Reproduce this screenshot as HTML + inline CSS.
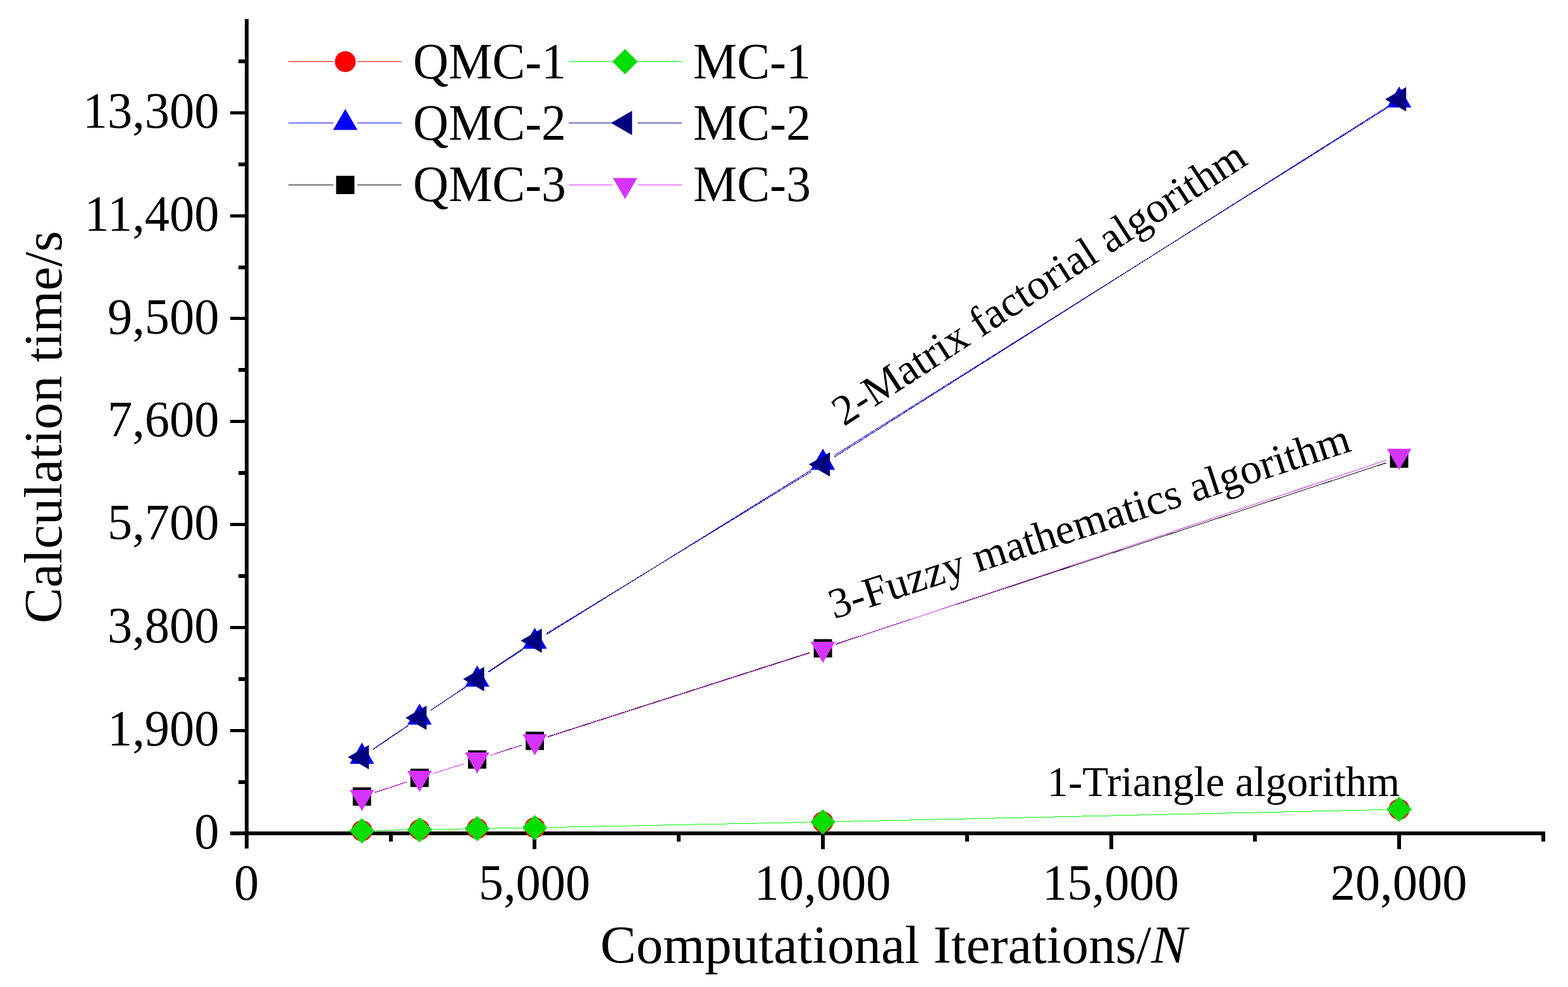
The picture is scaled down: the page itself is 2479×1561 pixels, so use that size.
<!DOCTYPE html><html><head><meta charset="utf-8"><style>html,body{margin:0;padding:0;background:#fff}svg{display:block}text{font-family:"Liberation Serif",serif;fill:#000}</style></head><body>
<svg width="2479" height="1561" viewBox="0 0 2479 1561">
<rect width="2479" height="1561" fill="#fff"/>
<g fill="#000">
<rect x="387" y="30" width="6" height="1312"/>
<rect x="364" y="1315" width="2079" height="6"/>
<rect x="377" y="1234" width="10" height="6"/>
<rect x="364" y="1153" width="23" height="5"/>
<rect x="377" y="1071" width="10" height="6"/>
<rect x="364" y="990" width="23" height="5"/>
<rect x="377" y="908" width="10" height="6"/>
<rect x="364" y="827" width="23" height="5"/>
<rect x="377" y="745" width="10" height="6"/>
<rect x="364" y="664" width="23" height="5"/>
<rect x="377" y="582" width="10" height="6"/>
<rect x="364" y="501" width="23" height="5"/>
<rect x="377" y="420" width="10" height="6"/>
<rect x="364" y="339" width="23" height="5"/>
<rect x="377" y="257" width="10" height="6"/>
<rect x="364" y="176" width="23" height="5"/>
<rect x="377" y="94" width="10" height="6"/>
<rect x="615" y="1321" width="6" height="10"/>
<rect x="842" y="1321" width="6" height="22"/>
<rect x="1070" y="1321" width="6" height="10"/>
<rect x="1298" y="1321" width="6" height="22"/>
<rect x="1526" y="1321" width="6" height="10"/>
<rect x="1754" y="1321" width="6" height="22"/>
<rect x="1981" y="1321" width="6" height="10"/>
<rect x="2209" y="1321" width="6" height="22"/>
<rect x="2437" y="1321" width="6" height="10"/>
</g>
<path d="M593.70 1313.58L641.80 1312.62M684.80 1311.80L732.90 1310.90M775.90 1310.15L824.00 1309.35M867.00 1308.58L1279.50 1300.42M1322.49 1299.53L2190.51 1280.47" stroke="#ff0000" stroke-width="1.0" fill="none" shape-rendering="crispEdges"/>
<circle cx="572.20" cy="1314.00" r="16.5" fill="#ff0000"/>
<circle cx="663.30" cy="1312.20" r="16.5" fill="#ff0000"/>
<circle cx="754.40" cy="1310.50" r="16.5" fill="#ff0000"/>
<circle cx="845.50" cy="1309.00" r="16.5" fill="#ff0000"/>
<circle cx="1301.00" cy="1300.00" r="16.5" fill="#ff0000"/>
<circle cx="2212.00" cy="1280.00" r="16.5" fill="#ff0000"/>
<path d="M589.99 1184.73L645.51 1147.07M681.24 1123.15L736.46 1086.65M772.37 1063.00L827.53 1026.80M863.76 1003.65L1282.74 743.15M1319.20 720.35L2193.80 170.35" stroke="#0000ff" stroke-width="1.0" fill="none" shape-rendering="crispEdges"/>
<path d="M572.20 1174.57L591.45 1207.91L552.95 1207.91Z" fill="#0000ff"/>
<path d="M663.30 1112.77L682.55 1146.11L644.05 1146.11Z" fill="#0000ff"/>
<path d="M754.40 1052.57L773.65 1085.91L735.15 1085.91Z" fill="#0000ff"/>
<path d="M845.50 992.77L864.75 1026.11L826.25 1026.11Z" fill="#0000ff"/>
<path d="M1301.00 709.57L1320.25 742.91L1281.75 742.91Z" fill="#0000ff"/>
<path d="M2212.00 136.67L2231.25 170.01L2192.75 170.01Z" fill="#0000ff"/>
<path d="M592.65 1253.16L642.85 1236.84M683.79 1223.68L733.91 1207.72M774.85 1194.58L825.05 1178.32M865.97 1165.12L1280.53 1031.88M1321.42 1018.58L2191.58 732.02" stroke="#000000" stroke-width="1.0" fill="none" shape-rendering="crispEdges"/>
<rect x="557.70" y="1245.30" width="29" height="29" fill="#000000"/>
<rect x="648.80" y="1215.70" width="29" height="29" fill="#000000"/>
<rect x="739.90" y="1186.70" width="29" height="29" fill="#000000"/>
<rect x="831.00" y="1157.20" width="29" height="29" fill="#000000"/>
<rect x="1286.50" y="1010.80" width="29" height="29" fill="#000000"/>
<rect x="2197.50" y="710.80" width="29" height="29" fill="#000000"/>
<path d="M593.70 1313.58L641.80 1312.62M684.80 1311.80L732.90 1310.90M775.90 1310.15L824.00 1309.35M867.00 1308.58L1279.50 1300.42M1322.49 1299.53L2190.51 1280.47" stroke="#00ff00" stroke-width="1.0" fill="none" shape-rendering="crispEdges"/>
<path d="M572.20 1294.00L592.20 1314.00L572.20 1334.00L552.20 1314.00Z" fill="#00dd00"/>
<path d="M663.30 1292.20L683.30 1312.20L663.30 1332.20L643.30 1312.20Z" fill="#00dd00"/>
<path d="M754.40 1290.50L774.40 1310.50L754.40 1330.50L734.40 1310.50Z" fill="#00dd00"/>
<path d="M845.50 1289.00L865.50 1309.00L845.50 1329.00L825.50 1309.00Z" fill="#00dd00"/>
<path d="M1301.00 1280.00L1321.00 1300.00L1301.00 1320.00L1281.00 1300.00Z" fill="#00dd00"/>
<path d="M2212.00 1260.00L2232.00 1280.00L2212.00 1300.00L2192.00 1280.00Z" fill="#00dd00"/>
<path d="M589.97 1185.29L645.53 1147.41M681.14 1123.30L736.56 1086.00M772.29 1062.08L827.61 1025.22M863.84 1002.07L1282.66 745.63M1319.16 722.89L2193.84 168.51" stroke="#000080" stroke-width="1.0" fill="none" shape-rendering="crispEdges"/>
<path d="M549.97 1197.40L583.31 1178.15L583.31 1216.65Z" fill="#000080"/>
<path d="M641.07 1135.30L674.41 1116.05L674.41 1154.55Z" fill="#000080"/>
<path d="M732.17 1074.00L765.51 1054.75L765.51 1093.25Z" fill="#000080"/>
<path d="M823.27 1013.30L856.61 994.05L856.61 1032.55Z" fill="#000080"/>
<path d="M1278.77 734.40L1312.11 715.15L1312.11 753.65Z" fill="#000080"/>
<path d="M2189.77 157.00L2223.11 137.75L2223.11 176.25Z" fill="#000080"/>
<path d="M592.61 1253.63L642.89 1236.97M683.79 1223.68L733.91 1207.72M774.90 1194.72L825.00 1178.88M865.97 1165.83L1280.53 1032.77M1321.39 1019.37L2191.61 727.73" stroke="#d633ff" stroke-width="1.0" fill="none" shape-rendering="crispEdges"/>
<path d="M552.95 1249.29L591.45 1249.29L572.20 1282.63Z" fill="#d633ff"/>
<path d="M644.05 1219.09L682.55 1219.09L663.30 1252.43Z" fill="#d633ff"/>
<path d="M735.15 1190.09L773.65 1190.09L754.40 1223.43Z" fill="#d633ff"/>
<path d="M826.25 1161.29L864.75 1161.29L845.50 1194.63Z" fill="#d633ff"/>
<path d="M1281.75 1015.09L1320.25 1015.09L1301.00 1048.43Z" fill="#d633ff"/>
<path d="M2192.75 709.79L2231.25 709.79L2212.00 743.13Z" fill="#d633ff"/>
<g style="font-size:78.5px" text-anchor="end">
<text transform="translate(346.5 1341.60) scale(1 1.035)">0</text>
<text transform="translate(346.5 1178.79) scale(1 1.035)">1,900</text>
<text transform="translate(346.5 1015.97) scale(1 1.035)">3,800</text>
<text transform="translate(346.5 853.16) scale(1 1.035)">5,700</text>
<text transform="translate(346.5 690.34) scale(1 1.035)">7,600</text>
<text transform="translate(346.5 527.53) scale(1 1.035)">9,500</text>
<text transform="translate(346.5 364.71) scale(1 1.035)">11,400</text>
<text transform="translate(346.5 201.90) scale(1 1.035)">13,300</text>
</g>
<g style="font-size:78.5px" text-anchor="middle">
<text transform="translate(389.50 1422.7) scale(1 1.035)">0</text>
<text transform="translate(845.00 1422.7) scale(1 1.035)">5,000</text>
<text transform="translate(1300.50 1422.7) scale(1 1.035)">10,000</text>
<text transform="translate(1756.00 1422.7) scale(1 1.035)">15,000</text>
<text transform="translate(2211.50 1422.7) scale(1 1.035)">20,000</text>
</g>
<text x="949" y="1522.6" style="font-size:85px">Computational Iterations/<tspan style="font-style:italic">N</tspan></text>
<text transform="translate(96.9 986) rotate(-90)" style="font-size:85px">Calculation time/s</text>
<path d="M456 97.5H526.5M565.3 97.5H635" stroke="#ff0000" stroke-width="1" shape-rendering="crispEdges"/>
<circle cx="545.90" cy="97.50" r="16.5" fill="#ff0000"/>
<text transform="translate(653 124.3) scale(1 1.035)" style="font-size:77.8px">QMC-1</text>
<path d="M456 194.5H526.5M565.3 194.5H635" stroke="#0000ff" stroke-width="1" shape-rendering="crispEdges"/>
<path d="M545.90 172.27L565.15 205.61L526.65 205.61Z" fill="#0000ff"/>
<text transform="translate(653 221.2) scale(1 1.035)" style="font-size:77.8px">QMC-2</text>
<path d="M456 292.5H526.5M565.3 292.5H635" stroke="#000000" stroke-width="1" shape-rendering="crispEdges"/>
<rect x="531.40" y="278.00" width="29" height="29" fill="#000000"/>
<text transform="translate(653 318.4) scale(1 1.035)" style="font-size:77.8px">QMC-3</text>
<path d="M899 97.5H968.5M1008 97.5H1077.5" stroke="#00ff00" stroke-width="1" shape-rendering="crispEdges"/>
<path d="M988.20 77.50L1008.20 97.50L988.20 117.50L968.20 97.50Z" fill="#00dd00"/>
<text transform="translate(1096 124.3) scale(1 1.035)" style="font-size:77.8px">MC-1</text>
<path d="M899 194.5H968.5M1008 194.5H1077.5" stroke="#000080" stroke-width="1" shape-rendering="crispEdges"/>
<path d="M965.97 194.50L999.31 175.25L999.31 213.75Z" fill="#000080"/>
<text transform="translate(1096 221.2) scale(1 1.035)" style="font-size:77.8px">MC-2</text>
<path d="M899 292.5H968.5M1008 292.5H1077.5" stroke="#d633ff" stroke-width="1" shape-rendering="crispEdges"/>
<path d="M968.95 281.39L1007.45 281.39L988.20 314.73Z" fill="#d633ff"/>
<text transform="translate(1096 318.4) scale(1 1.035)" style="font-size:77.8px">MC-3</text>
<text x="1655.5" y="1258.5" style="font-size:67px">1-Triangle algorithm</text>
<text transform="translate(1334.3 674.9) rotate(-33.0)" style="font-size:67.8px">2-Matrix factorial algorithm</text>
<text transform="translate(1318.7 979.2) rotate(-18)" style="font-size:67.8px">3-Fuzzy mathematics algorithm</text>
</svg></body></html>
